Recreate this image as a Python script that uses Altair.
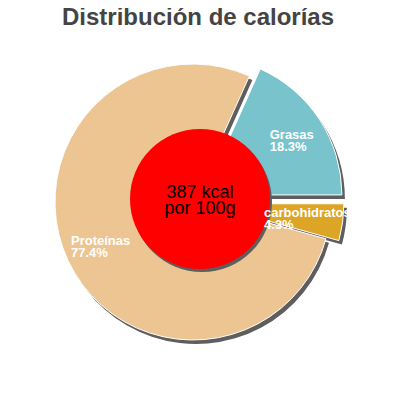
import math
import altair as alt
import pandas as pd

# ---- data ----
names = ["Grasas", "carbohidratos", "Proteínas"]
pcts = [18.3, 4.3, 77.4]
sliced = [True, True, False]
colors = ["#78c3cc", "#dca526", "#edc592"]
kcal = 387
title_text = "Distribución de calorías"

# ---- styling constants (view coordinates) ----
CX, CY = 185, 194          # pie centre
R = 138                    # pie radius
EXPLODE = 13               # offset of sliced slices
LABEL_R = 102              # label radius
LABEL_DY = -4
START = math.pi / 2 - 2 * math.pi * pcts[0] / 100  # Grasas ends at 3 o'clock
SHADOW_DX, SHADOW_DY = 3, 4
RC = 70                    # centre disc radius

df = pd.DataFrame({"name": names, "pct": pcts, "sliced": sliced,
                   "order": list(range(len(names)))})

base = alt.Chart(df).transform_window(
    cum="sum(pct)", sort=[alt.SortField("order")], frame=[None, 0]
).transform_calculate(
    t0=f"{START} + (datum.cum - datum.pct) / 100 * 2 * PI",
    t1=f"{START} + datum.cum / 100 * 2 * PI",
).transform_calculate(
    mid="(datum.t0 + datum.t1) / 2",
    off=f"datum.sliced ? {EXPLODE} : 0",
).transform_calculate(
    px=f"{CX} + datum.off * sin(datum.mid)",
    py=f"{CY} - datum.off * cos(datum.mid)",
    label="datum.name + '\\n' + format(datum.pct, '.1f') + '%'",
    w="max(length(datum.name), length(format(datum.pct, '.1f') + '%')) * 6.6",
).transform_calculate(
    sx=f"datum.px + {SHADOW_DX}",
    sy=f"datum.py + {SHADOW_DY}",
    lx=f"datum.px + {LABEL_R} * sin(datum.mid) - datum.w / 2",
    ly=f"datum.py - {LABEL_R} * cos(datum.mid) + {LABEL_DY}",
)

shadow = base.mark_arc(outerRadius=R, innerRadius=0, fill="#5e5e5e").encode(
    x=alt.X("sx:Q", scale=None, axis=None),
    y=alt.Y("sy:Q", scale=None, axis=None),
    theta=alt.Theta("t0:Q", scale=None),
    theta2="t1:Q",
)

slices = base.mark_arc(outerRadius=R, innerRadius=0, stroke="white",
                       strokeWidth=1).encode(
    x=alt.X("px:Q", scale=None, axis=None),
    y=alt.Y("py:Q", scale=None, axis=None),
    theta=alt.Theta("t0:Q", scale=None),
    theta2="t1:Q",
    color=alt.Color("name:N", scale=alt.Scale(domain=names, range=colors),
                    legend=None),
)

labels = base.mark_text(align="left", baseline="middle", lineBreak="\n",
                        lineHeight=12, font="Liberation Sans", fontSize=13,
                        fontWeight="bold", color="white").encode(
    x=alt.X("lx:Q", scale=None, axis=None),
    y=alt.Y("ly:Q", scale=None, axis=None),
    text="label:N",
)

cdf = pd.DataFrame({"kcal": [kcal]})
center_base = alt.Chart(cdf)
circle_shadow = center_base.mark_circle(size=4 * RC * RC, color="#5e5e5e",
                                        opacity=1).encode(
    x=alt.value(192 + 2), y=alt.value(191 + 3))
circle = center_base.mark_circle(size=4 * RC * RC, color="#ff0000",
                                 opacity=1).encode(
    x=alt.value(192), y=alt.value(191))
center_text = center_base.transform_calculate(
    t="datum.kcal + ' kcal\\npor 100g'"
).mark_text(align="center", baseline="middle", lineBreak="\n", lineHeight=16,
            font="Liberation Sans", fontSize=18, color="black").encode(
    x=alt.value(192), y=alt.value(185), text="t:N")

tdf = pd.DataFrame({"title": [title_text]})
title = alt.Chart(tdf).mark_text(align="center", baseline="alphabetic",
                                 font="Liberation Sans", fontSize=24,
                                 fontWeight="bold", color="#444444").encode(
    x=alt.value(190), y=alt.value(17), text="title:N")

chart = alt.layer(shadow, slices, circle_shadow, circle, center_text, labels,
                  title).properties(
    width=384, height=384, autosize=alt.AutoSizeParams(type="none"), padding=0
).configure_view(strokeWidth=0)

chart.save("out.html", embed_options={"renderer": "svg", "actions": False})
